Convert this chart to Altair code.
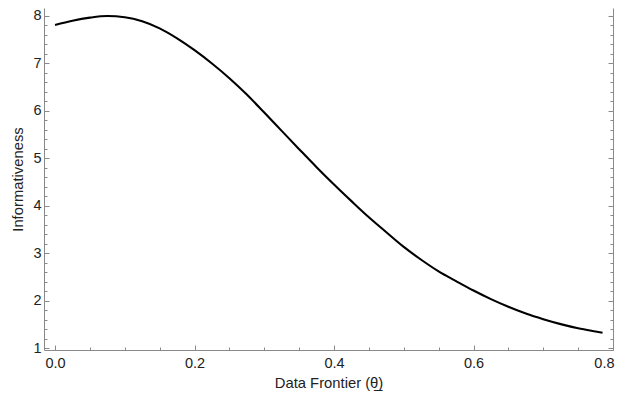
import altair as alt
import pandas as pd

# Curve
theta = [0.000, 0.025, 0.050, 0.075, 0.100, 0.125, 0.150, 0.175, 0.200, 0.225,
         0.250, 0.275, 0.300, 0.325, 0.350, 0.375, 0.400, 0.425, 0.450, 0.475,
         0.500, 0.525, 0.550, 0.575, 0.600, 0.625, 0.650, 0.675, 0.700, 0.725,
         0.750, 0.775, 0.785]
informativeness = [7.81, 7.90, 7.965, 8.00, 7.975, 7.89, 7.74, 7.53, 7.28, 7.00,
                   6.69, 6.345, 5.965, 5.58, 5.195, 4.815, 4.45, 4.10, 3.76, 3.445,
                   3.135, 2.865, 2.62, 2.415, 2.217, 2.036, 1.874, 1.731, 1.612, 1.509,
                   1.422, 1.354, 1.328]

x_major = [0.0, 0.2, 0.4, 0.6, 0.8]
x_ticks = [0.0, 0.05, 0.1, 0.15, 0.2, 0.25, 0.3, 0.35, 0.4, 0.45, 0.5, 0.55,
           0.6, 0.65, 0.7, 0.75, 0.8]
y_major = [1, 2, 3, 4, 5, 6, 7, 8]
y_ticks = [1.0, 1.2, 1.4, 1.6, 1.8, 2.0, 2.2, 2.4, 2.6, 2.8, 3.0, 3.2, 3.4, 3.6,
           3.8, 4.0, 4.2, 4.4, 4.6, 4.8, 5.0, 5.2, 5.4, 5.6, 5.8, 6.0, 6.2, 6.4,
           6.6, 6.8, 7.0, 7.2, 7.4, 7.6, 7.8, 8.0]

df = pd.DataFrame({"theta": theta, "info": informativeness})

W, H = 569, 342
xs = alt.Scale(domain=[-0.0158, 0.8], nice=False, zero=False)
ys = alt.Scale(domain=[0.964, 8.1685], nice=False, zero=False)

TICK = "#8a8a8a"
x_tick_size = {"condition": {"test": "abs(datum.value*5 - round(datum.value*5)) < 0.001", "value": 5}, "value": 3}
y_tick_size = {"condition": {"test": "abs(datum.value - round(datum.value)) < 0.001", "value": 5}, "value": 3}

line = alt.Chart(df).mark_line(color="black", strokeWidth=2.1, interpolate="monotone").encode(
    x=alt.X("theta:Q", scale=xs, axis=alt.Axis(
        orient="bottom", values=x_major, format=".1f", ticks=False, tickSize=0,
        domain=False, grid=False, labelPadding=6.5, labelFlush=True,
        labelFlushOffset=1,
        title="Data Frontier (θ̲)", titleY=33, titleBaseline="middle")),
    y=alt.Y("info:Q", scale=ys, axis=alt.Axis(
        orient="left", values=y_major, format="d", ticks=False, tickSize=0,
        domain=False, grid=False, labelPadding=3, labelFlush=False,
        title="Informativeness", titleX=-26, titleBaseline="middle")),
)

# frame lines + inward ticks on bottom and left sides
ticks_a = alt.Chart(df).mark_line(opacity=0).encode(
    x=alt.X("theta:Q", scale=xs, axis=alt.Axis(
        orient="top", offset=-H, values=x_ticks, labels=False, domain=True,
        domainColor=TICK, grid=False, title=None, tickColor=TICK,
        tickSize=x_tick_size)),
    y=alt.Y("info:Q", scale=ys, axis=alt.Axis(
        orient="right", offset=-W, values=y_ticks, labels=False, domain=True,
        domainColor=TICK, grid=False, title=None, tickColor=TICK,
        tickSize=y_tick_size)),
)

# frame line + inward ticks on the right side
ticks_b = alt.Chart(df).mark_line(opacity=0).encode(
    x=alt.X("theta:Q", scale=xs, axis=None),
    y=alt.Y("info:Q", scale=ys, axis=alt.Axis(
        orient="left", offset=-W, values=y_ticks, labels=False, domain=True,
        domainColor=TICK, grid=False, title=None, tickColor=TICK,
        tickSize=y_tick_size)),
)

chart = alt.layer(line, ticks_a, ticks_b).resolve_axis(
    x="independent", y="independent"
).properties(
    width=W, height=H,
    padding={"top": 0, "left": 36, "right": 2, "bottom": 44},
    autosize=alt.AutoSizeParams(type="none"),
).configure_view(
    stroke=None
).configure_axis(
    labelFont="Liberation Sans", labelFontSize=14.5, labelColor="#222",
    titleFont="Liberation Sans", titleFontSize=14.8, titleFontWeight="normal",
    titleColor="#222", tickWidth=1, domainWidth=1
)

chart.save("out.html", embed_options={"renderer": "svg", "actions": False})
